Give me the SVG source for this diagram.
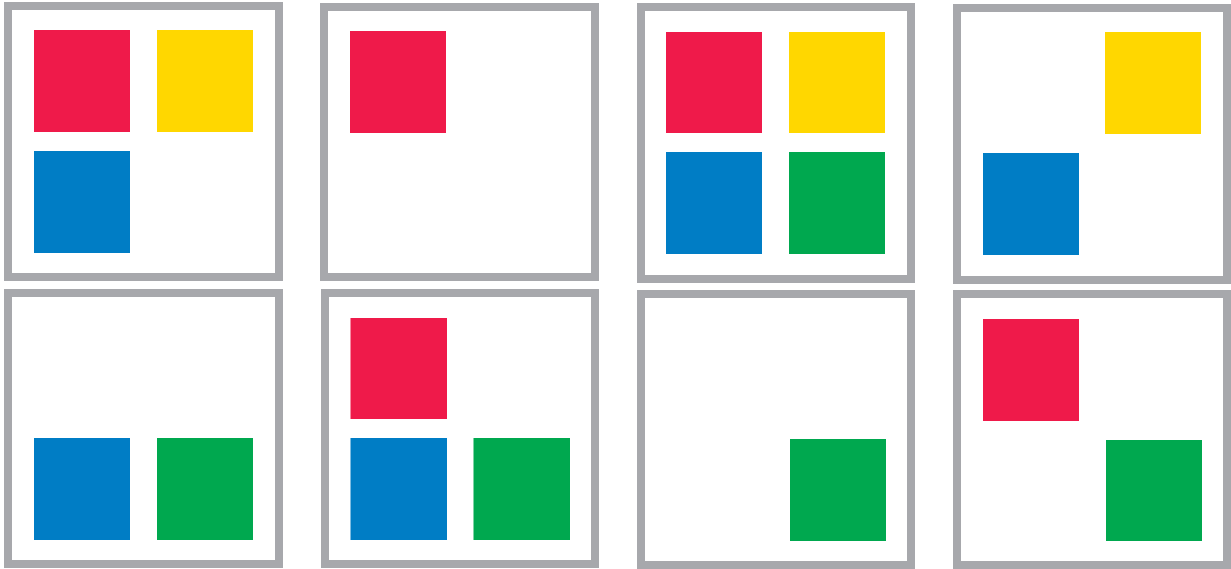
<svg xmlns="http://www.w3.org/2000/svg" width="1231" height="569" viewBox="0 0 1231 569">
<style>
.frame{fill:#ffffff;stroke:#a7a8ac;stroke-width:8}
.r{fill:#ef1a4a}
.y{fill:#ffd700}
.b{fill:#007dc5}
.g{fill:#00a84f}
</style>
<rect width="1231" height="569" fill="#ffffff"/>
<g id="panel1">
<rect class="frame" x="8" y="6" width="271" height="271"/>
<rect class="r" x="34" y="30" width="96" height="102"/>
<rect class="y" x="157" y="30" width="96" height="102"/>
<rect class="b" x="34" y="151" width="96" height="102"/>
</g>
<g id="panel2">
<rect class="frame" x="324" y="7" width="271" height="270"/>
<rect class="r" x="350" y="31" width="96" height="102"/>
</g>
<g id="panel3">
<rect class="frame" x="641" y="7" width="270" height="272"/>
<rect class="r" x="666" y="32" width="96" height="101"/>
<rect class="y" x="789" y="32" width="96" height="101"/>
<rect class="b" x="666" y="152" width="96" height="102"/>
<rect class="g" x="789" y="152" width="96" height="102"/>
</g>
<g id="panel4">
<rect class="frame" x="957" y="8" width="270" height="272"/>
<rect class="y" x="1105" y="32" width="96" height="102"/>
<rect class="b" x="983" y="153" width="96" height="102"/>
</g>
<g id="panel5">
<rect class="frame" x="8" y="293" width="271" height="271"/>
<rect class="b" x="34" y="438" width="96" height="102"/>
<rect class="g" x="157" y="438" width="96" height="102"/>
</g>
<g id="panel6">
<rect class="frame" x="325" y="293" width="270" height="271"/>
<rect class="r" x="350.5" y="318" width="96.5" height="101"/>
<rect class="b" x="350.5" y="438" width="96.5" height="102"/>
<rect class="g" x="473.5" y="438" width="96.5" height="102"/>
</g>
<g id="panel7">
<rect class="frame" x="641" y="294" width="270" height="271"/>
<rect class="g" x="790" y="439" width="96" height="102"/>
</g>
<g id="panel8">
<rect class="frame" x="957" y="294" width="270" height="271"/>
<rect class="r" x="983" y="319" width="96" height="102"/>
<rect class="g" x="1106" y="440" width="96" height="101"/>
</g>
</svg>
